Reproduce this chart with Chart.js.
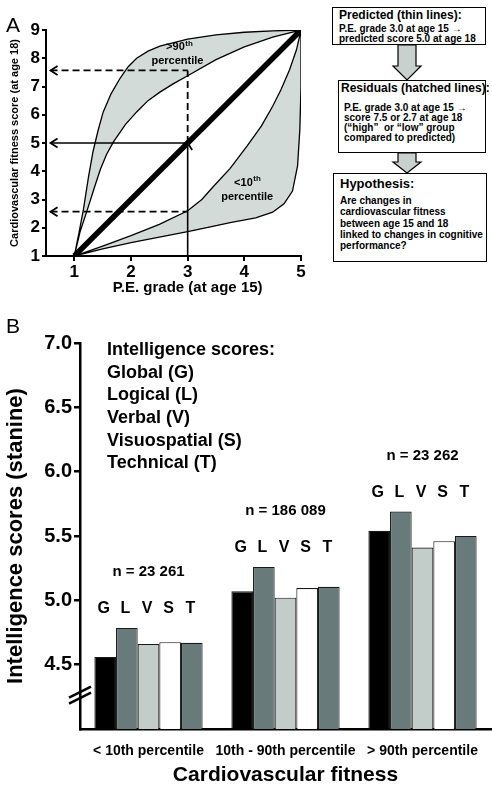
<!DOCTYPE html>
<html>
<head>
<meta charset="utf-8">
<script src="https://cdn.jsdelivr.net/npm/chart.js@4.4.1/dist/chart.umd.min.js"></script>
<style>
  body { margin: 0; background: #fff; }
  #wrap { position: relative; width: 492px; height: 792px; overflow: hidden;
          font-family: "Liberation Sans", Arial, sans-serif; color: #000; }
  canvas { position: absolute; left: 0; }
  #chartA { top: 0; }
  #chartB { top: 320px; }
  .panel { position: absolute; font-size: 21px; line-height: 21px; }
  .box { position: absolute; border: 1.5px solid #000; background: #fff; font-weight: bold;
         box-sizing: border-box; padding: 0 0 0 6px; }
  .ttl { font-size: 12px; line-height: 14px; white-space: nowrap; }
  .txt { font-size: 10px; line-height: 9.6px; white-space: nowrap; }
  svg { position: absolute; left: 380px; top: 40px; }
</style>
</head>
<body>
<div id="wrap">
  <canvas id="chartA" width="320" height="300"></canvas>
  <canvas id="chartB" width="492" height="472"></canvas>
  <div class="panel" style="left:6px; top:14px;">A</div>
  <div class="panel" style="left:6px; top:315px;">B</div>

  <div class="box" style="left:332px; top:7px; width:154px; height:38px; padding-top:0px;">
    <div class="ttl">Predicted (thin lines):</div>
    <div class="txt" style="margin-top:2px;">P.E. grade 3.0 at age 15 &rarr;<br>predicted score 5.0 at age 18</div>
  </div>
  <div class="box" style="left:338px; top:80px; width:148px; height:73px; padding-left:2px;">
    <div class="ttl">Residuals (hatched lines):</div>
    <div class="txt" style="margin-top:8px; line-height:10px; padding-left:3px;">P.E. grade 3.0 at age 15 &rarr;<br>score 7.5 or 2.7 at age 18<br>(&ldquo;high&rdquo;&nbsp; or &ldquo;low&rdquo; group<br>compared to predicted)</div>
  </div>
  <div class="box" style="left:333px; top:173px; width:154px; height:89px; padding-top:3px;">
    <div class="ttl" style="font-size:13px;">Hypothesis:</div>
    <div class="txt" style="margin-top:4px; line-height:11.3px;">Are changes in<br>cardiovascular fitness<br>between age 15 and 18<br>linked to changes in cognitive<br>performance?</div>
  </div>
  <svg width="60" height="140">
    <polygon points="18,5 36,5 36,26 41,26 27,40 13,26 18,26" fill="#c9d1cf" stroke="#000" stroke-width="1.2"/>
    <polygon points="18,113 36,113 36,122 41,122 27,133 13,122 18,122" fill="#c9d1cf" stroke="#000" stroke-width="1.2"/>
  </svg>
</div>
<script>
// ---- panel A data ----
const peGrades = [1, 2, 3, 4, 5];
const fitnessTicks = [1, 2, 3, 4, 5, 6, 7, 8, 9];
const upperOuterCurve = [[1,1],[1.08,1.8],[1.16,2.64],[1.25,3.8],[1.33,4.7],[1.42,5.45],[1.51,6.1],[1.65,6.75],[1.81,7.3],[1.95,7.7],[2.1,8.0],[2.3,8.25],[2.51,8.43],[3,8.68],[3.5,8.83],[4,8.92],[4.5,8.97],[5,9]];
const upperInnerCurve = [[1,1],[1.1,1.85],[1.23,2.64],[1.35,3.4],[1.46,4.07],[1.57,4.6],[1.69,5.04],[1.9,5.65],[2.1,6.1],[2.3,6.5],[2.51,6.8],[2.75,7.1],[3,7.38],[3.5,7.95],[4,8.4],[4.5,8.75],[5,9]];
const lowerInnerCurve = [[1,1],[1.5,1.35],[2,1.72],[2.5,2.12],[3,2.6],[3.25,3.0],[3.45,3.45],[3.75,4.1],[4.05,4.9],[4.3,5.6],[4.5,6.3],[4.65,6.9],[4.8,7.6],[4.92,8.3],[5,9]];
const lowerOuterCurve = [[1,1],[1.5,1.25],[2,1.47],[2.5,1.67],[3,1.86],[3.4,2.03],[3.75,2.18],[4.2,2.35],[4.5,2.55],[4.7,2.85],[4.85,3.3],[4.94,4.2],[4.98,5.5],[5,7],[5,9]];
const predictedLine = [[1,1],[5,9]];
const exampleGrade = 3.0;
const predictedScore = 5.0;
const highScore = 7.57;
const lowScore = 2.57;
const arrowStart = 0.58;

// ---- panel B data ----
const fitnessGroups = ['< 10th percentile', '10th - 90th percentile', '> 90th percentile'];
const groupSizes = ['n = 23 261', 'n = 186 089', 'n = 23 262'];
const scoreNames = ['Global (G)', 'Logical (L)', 'Verbal (V)', 'Visuospatial (S)', 'Technical (T)'];
const scoreLetters = ['G', 'L', 'V', 'S', 'T'];
const globalScores = [4.56, 5.07, 5.54];
const logicalScores = [4.785, 5.26, 5.69];
const verbalScores = [4.66, 5.02, 5.41];
const spatialScores = [4.675, 5.095, 5.46];
const technicalScores = [4.67, 5.105, 5.50];
const scoreTicks = [4.5, 5.0, 5.5, 6.0, 6.5, 7.0];
const barColors = ['#000000', '#687b7a', '#c2ccc9', '#ffffff', '#687b7a'];

const FONT = '"Liberation Sans", Arial, sans-serif';
Chart.defaults.font.family = FONT;
Chart.defaults.color = '#000';

const pts = arr => arr.map(([x, y]) => ({x, y}));
const band = (outer, inner) => pts(outer.concat(inner.slice().reverse()));

function line(data, width, dash) {
  return {data: pts(data), showLine: true, pointRadius: 0, borderColor: '#000',
          borderWidth: width, borderDash: dash || [], fill: false, tension: 0};
}

function supText(ctx, x, y, base, sup, size) {
  ctx.font = `bold ${size}px ${FONT}`;
  const w1 = ctx.measureText(base).width;
  ctx.font = `bold ${size * 0.72}px ${FONT}`;
  const w2 = ctx.measureText(sup).width;
  const left = x - (w1 + w2) / 2;
  ctx.textAlign = 'left';
  ctx.textBaseline = 'middle';
  ctx.font = `bold ${size}px ${FONT}`;
  ctx.fillText(base, left, y);
  ctx.font = `bold ${size * 0.72}px ${FONT}`;
  ctx.fillText(sup, left + w1 + 0.5, y - size * 0.3);
}

const panelAExtras = {
  id: 'panelAExtras',
  afterDatasetsDraw(chart) {
    const {ctx, chartArea, scales: {x, y}} = chart;
    ctx.save();
    ctx.strokeStyle = '#000';
    ctx.lineWidth = 1.8;
    // arrow heads
    const heads = [[arrowStart, predictedScore, 'left'], [arrowStart, highScore, 'left'],
                   [arrowStart, lowScore, 'left'], [exampleGrade, predictedScore, 'up']];
    heads.forEach(([vx, vy, dir]) => {
      const px = x.getPixelForValue(vx), py = y.getPixelForValue(vy);
      ctx.beginPath();
      if (dir === 'left') {
        ctx.moveTo(px + 7, py - 4.5); ctx.lineTo(px, py); ctx.lineTo(px + 7, py + 4.5);
      } else {
        ctx.moveTo(px - 4.5, py + 7); ctx.lineTo(px, py); ctx.lineTo(px + 4.5, py + 7);
      }
      ctx.stroke();
    });
    ctx.fillStyle = '#000';
    supText(ctx, x.getPixelForValue(2.85), y.getPixelForValue(8.4), '>90', 'th', 11);
    supText(ctx, x.getPixelForValue(2.82), y.getPixelForValue(7.92), 'percentile', '', 11);
    supText(ctx, x.getPixelForValue(4.05), y.getPixelForValue(3.6), '<10', 'th', 11);
    supText(ctx, x.getPixelForValue(4.05), y.getPixelForValue(3.1), 'percentile', '', 11);
    // x axis title, centred under grade 3 as in the original figure
    ctx.font = `bold 15px ${FONT}`;
    ctx.textAlign = 'center';
    ctx.textBaseline = 'middle';
    ctx.fillText('P.E. grade (at age 15)', x.getPixelForValue(exampleGrade), chartArea.bottom + 32);
    ctx.restore();
  }
};

new Chart(document.getElementById('chartA'), {
  type: 'scatter',
  data: {
    datasets: [
      line([[arrowStart, predictedScore], [exampleGrade, predictedScore]], 1.6),
      line([[exampleGrade, 1], [exampleGrade, predictedScore]], 1.6),
      line([[exampleGrade, predictedScore], [exampleGrade, highScore]], 1.8, [7, 4]),
      line([[arrowStart, highScore], [exampleGrade, highScore]], 1.8, [7, 4]),
      line([[arrowStart, lowScore], [exampleGrade, lowScore]], 1.8, [7, 4]),
      line(predictedLine, 5.5),
      Object.assign(line([], 1.3), {data: band(upperOuterCurve, upperInnerCurve), fill: 'shape', backgroundColor: '#d3dbd9'}),
      Object.assign(line([], 1.3), {data: band(lowerOuterCurve, lowerInnerCurve), fill: 'shape', backgroundColor: '#d3dbd9'})
    ]
  },
  options: {
    responsive: false,
    animation: false,
    devicePixelRatio: 1,
    layout: {padding: {top: 30, right: 19}},
    plugins: {legend: {display: false}, tooltip: {enabled: false}},
    scales: {
      x: {
        type: 'linear', min: 0.5, max: 5,
        afterBuildTicks: s => { s.ticks = peGrades.map(v => ({value: v})); },
        afterFit: s => { s.height = 44; },
        grid: {drawOnChartArea: false, tickLength: 5, color: '#000', lineWidth: 2},
        border: {color: '#000', width: 2},
        ticks: {font: {size: 17, weight: 'bold'}, padding: 1, color: '#000'}
      },
      y: {
        type: 'linear', min: 1, max: 9,
        afterBuildTicks: s => { s.ticks = fitnessTicks.map(v => ({value: v})); },
        afterFit: s => { s.width = 46; },
        grid: {drawOnChartArea: false, tickLength: 4, color: '#000', lineWidth: 2},
        border: {color: '#000', width: 2},
        ticks: {font: {size: 17, weight: 'bold'}, padding: 2, color: '#000'},
        title: {display: true, text: 'Cardiovascular fitness score (at age 18)', font: {size: 11, weight: 'bold'}, padding: {top: 8, bottom: 0}, color: '#000'}
      }
    }
  },
  plugins: [panelAExtras]
});

const panelBExtras = {
  id: 'panelBExtras',
  afterDatasetsDraw(chart) {
    const {ctx, chartArea, scales: {x, y}} = chart;
    ctx.save();
    ctx.fillStyle = '#000';
    // legend text
    ctx.font = `bold 18px ${FONT}`;
    ctx.textAlign = 'left';
    ctx.textBaseline = 'middle';
    ['Intelligence scores:'].concat(scoreNames).forEach((t, i) => {
      ctx.fillText(t, chartArea.left + 27, chartArea.top + 7 + i * 22.7);
    });
    // group labels
    fitnessGroups.forEach((g, i) => {
      const top = Math.max(...chart.data.datasets.map(d => d.data[i]));
      const py = y.getPixelForValue(top);
      ctx.textAlign = 'center';
      ctx.font = `bold 16px ${FONT}`;
      chart.data.datasets.forEach((d, j) => {
        const bar = chart.getDatasetMeta(j).data[i];
        ctx.fillText(scoreLetters[j], bar.x - 1.5, py - 19);
      });
      ctx.font = `bold 15px ${FONT}`;
      ctx.fillText(groupSizes[i], x.getPixelForValue(i), py - 56);
    });
    // axis break
    const by = y.getPixelForValue(4.26), bx = chartArea.left;
    ctx.strokeStyle = '#000';
    ctx.lineWidth = 2.5;
    [-3, 3].forEach(o => {
      ctx.beginPath();
      ctx.moveTo(bx - 11, by + o + 5);
      ctx.lineTo(bx + 11, by + o - 6);
      ctx.stroke();
    });
    ctx.restore();
  }
};

const seriesData = [globalScores, logicalScores, verbalScores, spatialScores, technicalScores];
new Chart(document.getElementById('chartB'), {
  type: 'bar',
  data: {
    labels: fitnessGroups,
    datasets: seriesData.map((d, i) => ({
      label: scoreNames[i], data: d, backgroundColor: barColors[i],
      borderColor: '#1a1a1a', borderWidth: 1.1,
      categoryPercentage: 0.79, barPercentage: 1.0
    }))
  },
  options: {
    responsive: false,
    animation: false,
    devicePixelRatio: 1,
    layout: {padding: {top: 23, right: 1}},
    plugins: {legend: {display: false}, tooltip: {enabled: false}},
    scales: {
      x: {
        afterFit: s => { s.height = 63; },
        grid: {display: false},
        border: {color: '#000', width: 2.5},
        ticks: {font: {size: 14, weight: 'bold'}, padding: 6, color: '#000', maxRotation: 0, minRotation: 0, autoSkip: false},
        title: {display: true, text: 'Cardiovascular fitness', font: {size: 21, weight: 'bold'}, padding: {top: 0, bottom: 4}, color: '#000'}
      },
      y: {
        min: 4, max: 7,
        afterBuildTicks: s => { s.ticks = scoreTicks.map(v => ({value: v})); },
        afterFit: s => { s.width = 80; },
        grid: {drawOnChartArea: false, tickLength: 6, color: '#000', lineWidth: 2.5},
        border: {color: '#000', width: 2.5},
        ticks: {font: {size: 20, weight: 'bold'}, padding: 2, color: '#000', callback: v => v.toFixed(1)},
        title: {display: true, text: 'Intelligence scores (stanine)', font: {size: 22, weight: 'bold'}, padding: {top: 3, bottom: 0}, color: '#000'}
      }
    }
  },
  plugins: [panelBExtras]
});
</script>
</body>
</html>
